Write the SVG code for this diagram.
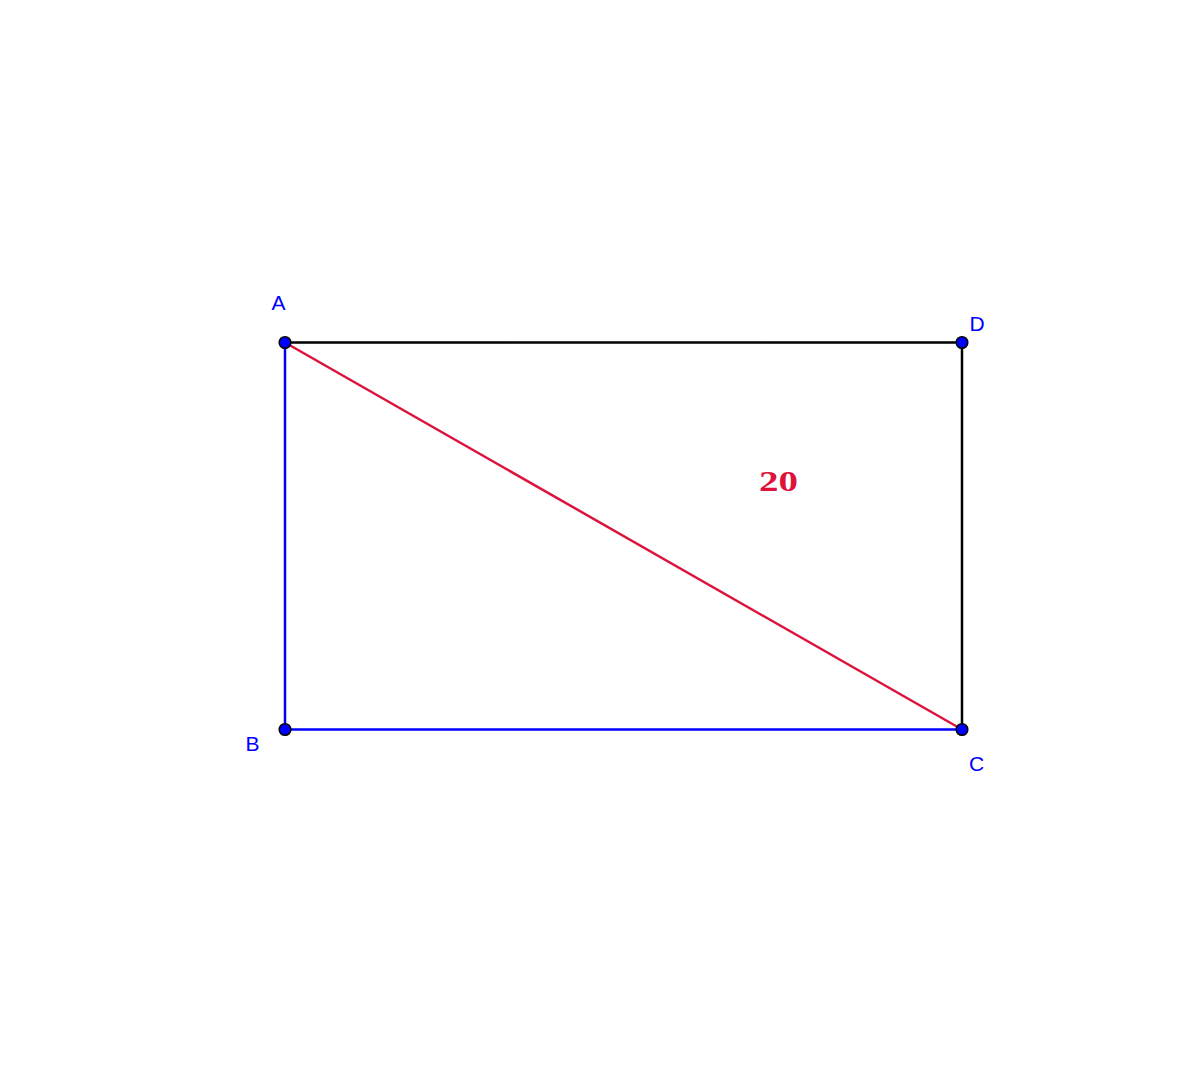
<svg xmlns="http://www.w3.org/2000/svg" width="1200" height="1080" viewBox="0 0 1200 1080">
<style>
.seg{stroke-width:2.5;fill:none;stroke-linecap:round}
.pt{fill:#0000ff;stroke:#000;stroke-width:1.5}
.lbl{font-family:"Liberation Sans",Arial,sans-serif;font-size:21px;fill:#0000ff}
.num{font-family:"Liberation Serif","Times New Roman",serif;font-size:29px;font-weight:bold;fill:#dc143c}
</style>
<rect width="1200" height="1080" fill="#fff"/>
<g id="connectors">
<line class="seg" x1="285" y1="342.5" x2="962" y2="342.5" stroke="#000"/>
<line class="seg" x1="962" y1="342.5" x2="962" y2="729.5" stroke="#000"/>
<line class="seg" x1="285" y1="342.5" x2="285" y2="729.5" stroke="#0000ff"/>
<line class="seg" x1="285" y1="729.5" x2="962" y2="729.5" stroke="#0000ff"/>
<line class="seg" x1="285" y1="342.5" x2="962" y2="729.5" stroke="#dc143c"/>
</g>
<g id="A"><circle class="pt" cx="285" cy="342.5" r="5.8"/><text class="lbl" x="271.5" y="310">A</text></g>
<g id="D"><circle class="pt" cx="962" cy="342.5" r="5.8"/><text class="lbl" x="969.5" y="331">D</text></g>
<g id="B"><circle class="pt" cx="285" cy="729.5" r="5.8"/><text class="lbl" x="245.5" y="751">B</text></g>
<g id="C"><circle class="pt" cx="962" cy="729.5" r="5.8"/><text class="lbl" x="969" y="771">C</text></g>
<g id="label20"><text class="num" x="759" y="491" textLength="39" lengthAdjust="spacingAndGlyphs">20</text></g>
</svg>
